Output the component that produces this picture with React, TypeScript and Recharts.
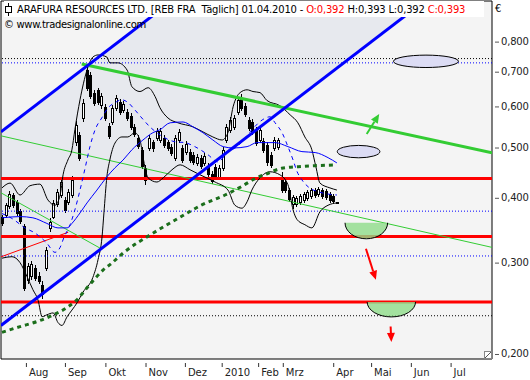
import React from 'react'
import {
  ComposedChart, XAxis, YAxis, CartesianGrid, Bar, Line, Area,
  ReferenceLine, ReferenceDot, ReferenceArea,
} from 'recharts'

// x = bar index (trading bars), y = price in EUR, log scale
const X_MIN = -0.27
const X_MAX = 133.15
const Y_MIN = 0.1956
const Y_MAX = 0.958

const monthTicks = [6.5, 17.1, 28.1, 39.0, 49.7, 59.7, 69.6, 76.3, 90.0, 100.3, 111.1, 121.9]
const monthLabels = ['Aug', 'Sep', 'Okt', 'Nov', 'Dez', '2010', 'Feb', 'Mrz', 'Apr', 'Mai', 'Jun', 'Jul']
const priceTicks = [0.2, 0.3, 0.4, 0.5, 0.6, 0.7, 0.8]

const opens = [
  .368, .371, .386, .405, .393, .377, .353, .278, .283, .293, .283, .272, .293, .350, .368, .389,
  .405, .396, .393, .405, .513, .529, .570, .705, .690, .638, .646, .605, .599, .551, .560, .597,
  .613, .591, .586, .575, .548, .522, .495, .457, .499, .513, .522, .517, .522, .513, .502, .477,
  .517, .499, .491, .491, .484, .467, .477, .467, .461, .445, .459, .439, .457, .517, .541, .548,
  .586, .624, .602, .565, .560, .541, .517, .515, .506, .484, .499, .502, .437, .429, .414, .389,
  .389, .393, .396, .400, .404, .414, .407, .414, .412, .407, .404, .392,
]
const highs = [
  .371, .391, .412, .409, .396, .381, .356, .300, .302, .297, .288, .276, .322, .365, .396, .416,
  .437, .402, .416, .441, .563, .536, .621, .724, .699, .646, .652, .638, .607, .558, .605, .632,
  .621, .616, .594, .583, .555, .529, .502, .463, .529, .517, .546, .546, .529, .517, .508, .529,
  .543, .506, .515, .497, .491, .486, .484, .488, .467, .451, .465, .463, .502, .555, .573, .578,
  .627, .635, .610, .573, .568, .548, .548, .522, .513, .491, .524, .522, .449, .433, .418, .405,
  .404, .407, .411, .414, .418, .418, .420, .418, .416, .411, .407, .393,
]
const lows = [
  .355, .368, .382, .384, .371, .358, .266, .274, .279, .278, .274, .256, .290, .345, .365, .386,
  .402, .376, .389, .402, .506, .473, .563, .646, .624, .605, .607, .597, .565, .522, .555, .591,
  .581, .586, .565, .543, .527, .499, .457, .425, .495, .493, .517, .513, .502, .495, .484, .473,
  .513, .469, .486, .469, .465, .463, .457, .463, .441, .427, .435, .435, .453, .513, .536, .543,
  .581, .591, .575, .541, .531, .506, .513, .491, .463, .459, .495, .497, .410, .410, .394, .382,
  .386, .389, .393, .396, .400, .402, .404, .400, .398, .393, .391, .392,
]
const closes = [
  .358, .387, .407, .387, .374, .361, .268, .295, .298, .280, .277, .261, .317, .360, .391, .410,
  .429, .379, .410, .433, .553, .477, .610, .652, .629, .610, .613, .629, .570, .527, .597, .624,
  .586, .607, .570, .548, .531, .504, .461, .433, .522, .499, .539, .539, .506, .499, .488, .522,
  .536, .473, .508, .473, .469, .480, .461, .482, .445, .431, .439, .457, .495, .548, .565, .570,
  .618, .597, .581, .546, .536, .510, .541, .495, .469, .463, .517, .517, .414, .414, .398, .402,
  .400, .404, .407, .411, .414, .405, .416, .404, .402, .396, .394, .393,
]

// indicator curves: [bar index, price]
const upperBand = [
  [0, .418], [2.2, .427], [4.9, .405], [7.6, .422], [10.3, .425], [12.5, .396], [14.4, .387],
  [15.8, .405], [16.6, .443], [17.9, .473], [19.0, .495], [19.8, .541], [21.2, .618], [23.1, .705],
  [24.7, .747], [26.1, .754], [28.5, .747], [29.3, .728], [31.5, .728], [34.0, .705], [35.3, .655],
  [37.5, .641], [39.7, .652], [41.6, .627], [42.9, .597], [45.1, .570], [47.8, .558], [51.9, .548],
  [54.6, .536], [57.3, .524], [59.8, .517], [61.4, .534], [62.8, .599], [64.7, .638], [66.6, .646],
  [68.2, .641], [70.1, .638], [72.0, .616], [75.5, .602], [78.3, .578], [80.4, .558], [82.3, .524],
  [84.2, .495], [85.3, .459], [86.4, .427], [89.1, .418], [91.0, .414],
]
const lowerBand = [
  [0, .306], [2.7, .308], [4.9, .300], [6.8, .282], [8.4, .266], [9.8, .254], [10.9, .236],
  [12.2, .238], [13.9, .240], [15.2, .230], [16.3, .227], [17.7, .236], [19.0, .243], [20.4, .251],
  [22.0, .263], [24.7, .281], [26.1, .304], [27.2, .337], [27.7, .374], [28.5, .439], [29.3, .473],
  [30.7, .510], [32.6, .524], [34.2, .524], [36.1, .534], [37.5, .517], [38.3, .480], [39.7, .437],
  [42.1, .429], [43.8, .437], [46.2, .453], [48.4, .463], [51.1, .453], [53.8, .443], [57.9, .429],
  [61.4, .414], [63.3, .387], [65.2, .382], [66.6, .393], [67.9, .414], [70.1, .437], [72.8, .449],
  [75.5, .443], [77.7, .424], [79.1, .379], [80.2, .363], [82.3, .355], [84.2, .350], [86.4, .376],
  [88.6, .387], [91.0, .391],
]
const blueAverage = [
  [0, .366], [4.9, .368], [8.4, .366], [12.2, .357], [15.2, .350], [17.7, .350], [19.0, .357],
  [21.2, .374], [23.1, .391], [25.8, .414], [28.5, .439], [30.7, .457], [32.9, .473], [35.3, .495],
  [38.3, .517], [41.0, .534], [42.9, .541], [45.7, .558], [49.2, .560], [51.9, .548], [54.6, .534],
  [57.3, .517], [60.1, .502], [62.8, .499], [66.6, .502], [69.3, .511], [74.2, .511], [77.7, .502],
  [81.5, .491], [85.1, .489], [88.6, .478], [91.0, .467],
]
const blueDashed = [
  [0, .373], [2.7, .365], [6.25, .350], [9.0, .342], [12.2, .327], [14.4, .314], [15.8, .321],
  [16.8, .335], [18.5, .355], [19.8, .379], [21.2, .414], [22.6, .457], [23.9, .502], [25.3, .541],
  [27.1, .570], [28.9, .597], [30.7, .610], [32.5, .618], [34.3, .610], [36.1, .591], [38.0, .570],
  [40.2, .548], [42.9, .529], [47.0, .513], [49.7, .511], [52.4, .502], [56.0, .484], [58.7, .469],
  [61.4, .491], [63.9, .502], [65.2, .513], [67.9, .541], [70.7, .565], [72.8, .573], [74.2, .558],
  [76.1, .534], [77.7, .502], [79.1, .473], [80.2, .449], [81.5, .433], [83.2, .420], [86.4, .410],
  [91.0, .405],
]
const longAverage = [
  [0, .2202], [4.9, .2258], [9.4, .2308], [13.9, .2378], [18.0, .2467], [20.3, .2542], [23.0, .2677],
  [25.3, .2798], [27.5, .2904], [29.8, .2991], [31.6, .3072], [33.4, .315], [40.2, .339], [47.9, .3653],
  [54.3, .3875], [60.6, .405], [65.1, .4206], [69.2, .4372], [71.5, .4436], [76.0, .456], [80.5, .4593],
  [85.1, .4613], [90.5, .4628],
]

// drawn trend lines: two end points each
const channelLow = [[X_MIN, 0.227], [X_MAX, 1.205]]
const channelHigh = [[X_MIN, 0.536], [X_MAX, 2.846]]
const greenResistance = [[21.66, 0.7245], [X_MAX, 0.4887]]
const greenLong = [[X_MIN, 0.5266], [X_MAX, 0.321]]
const greenShort = [[X_MIN, 0.4089], [26.63, 0.320]]
const redShort = [[X_MIN, 0.3078], [18.0, 0.3433]]

const redLevels = [0.436, 0.337, 0.252]
const blueDotted = [0.728, 0.377, 0.309, 0.252]
const blackDotted = [0.742, 0.237]

const toSeries = (pts: number[][]) => pts.map(([x, v]) => ({ x, v }))

const channelArea = [
  { x: X_MIN, band: [channelLow[0][1], channelHigh[0][1]] },
  { x: X_MAX, band: [channelLow[1][1], channelHigh[1][1]] },
]

const candles = opens.map((o, i) => ({
  x: i, o, h: highs[i], l: lows[i], c: closes[i], range: [lows[i], highs[i]],
}))

const Candle = (props: any) => {
  const { x, y, width, height, payload } = props
  if (!payload) return null
  const { o, h, l, c } = payload
  const span = Math.log(h) - Math.log(l)
  const py = (p: number) => y + (span > 0 ? (height * (Math.log(h) - Math.log(p))) / span : 0)
  const cx = Math.round(x + width / 2)
  const top = Math.round(py(Math.max(o, c)))
  const bot = Math.round(py(Math.min(o, c)))
  const up = c >= o
  return (
    <g>
      <line x1={cx + 0.5} x2={cx + 0.5} y1={Math.round(y)} y2={Math.round(y + height) + 1} stroke="#000" strokeWidth={1} />
      <rect x={cx - 0.5} y={top + 0.5} width={2} height={Math.max(1, bot - top)} fill={up ? '#fff' : '#000'} stroke="#000" strokeWidth={1} />
    </g>
  )
}

const MonthTick = ({ x, y, payload }: any) => {
  const idx = monthTicks.indexOf(payload.value)
  return (
    <g>
      <line x1={x + 0.5} x2={x + 0.5} y1={y + 4} y2={y + 8} stroke="#333" />
      <text x={x + 3} y={y + 17} fontSize={10} fontFamily="DejaVu Sans" fill="#222" textAnchor="start">
        {monthLabels[idx]}
      </text>
    </g>
  )
}

const PriceTick = ({ x, y, payload }: any) => (
  <g>
    <line x1={x + 3} x2={x + 7} y1={y + 0.5} y2={y + 0.5} stroke="#555" />
    <text x={x + 9} y={y + 3.5} fontSize={10} fontFamily="DejaVu Sans" fill="#222" letterSpacing={-0.2}>
      {payload.value.toFixed(3).replace('.', ',')}
    </text>
  </g>
)

const Ellipse = (rx: number, ry: number) => (p: any) => (
  <ellipse cx={p.cx} cy={p.cy} rx={rx} ry={ry} fill="#dcdcf4" stroke="#000" strokeWidth={1} />
)

const HalfEllipse = (rx: number, ry: number) => (p: any) => {
  const { cx, cy } = p
  const arc = `M${cx - rx},${cy} A${rx},${ry} 0 0 0 ${cx + rx},${cy}`
  return (
    <g>
      <path d={`${arc} Z`} fill="#8fdc8a" fillOpacity={0.8} stroke="none" />
      <path d={arc} fill="none" stroke="#000" strokeWidth={1} />
    </g>
  )
}

const Arrow = (color: string) => (p: any) => {
  const { x1, y1, x2, y2 } = p
  if ([x1, y1, x2, y2].some((v) => v == null || isNaN(v))) return null
  const a = Math.atan2(y2 - y1, x2 - x1)
  const len = 9
  const w = 4
  const bx = x2 - len * Math.cos(a)
  const by = y2 - len * Math.sin(a)
  const nx = -Math.sin(a) * w
  const ny = Math.cos(a) * w
  return (
    <g>
      <line x1={x1} y1={y1} x2={bx} y2={by} stroke={color} strokeWidth={2} />
      <polygon points={`${x2},${y2} ${bx + nx},${by + ny} ${bx - nx},${by - ny}`} fill={color} />
    </g>
  )
}

const trend = (pts: number[][], color: string, width: number, key: string) => (
  <Line key={key} data={toSeries(pts)} dataKey="v" type="linear" stroke={color} strokeWidth={width}
    dot={false} activeDot={false} isAnimationActive={false} />
)

const curve = (pts: number[][], color: string, width: number, key: string, dash?: string) => (
  <Line key={key} data={toSeries(pts)} dataKey="v" type="monotone" stroke={color} strokeWidth={width}
    strokeDasharray={dash} dot={false} activeDot={false} isAnimationActive={false} />
)

export default function App() {
  return (
    <div style={{ position: 'absolute', left: 0, top: 0, width: 530, height: 380, background: '#fff', overflow: 'hidden' }}>
      <ComposedChart width={530} height={380} data={candles} margin={{ top: 1, right: 0, bottom: 0, left: 1 }}>
        <CartesianGrid horizontal={false} vertical={false} fill="#f4f4f4" />
        <XAxis dataKey="x" type="number" domain={[X_MIN, X_MAX]} allowDataOverflow ticks={monthTicks}
          interval={0} height={21} tickSize={0} tickMargin={0} axisLine={false} tick={<MonthTick />} />
        <YAxis orientation="right" scale="log" domain={[Y_MIN, Y_MAX]} allowDataOverflow ticks={priceTicks}
          interval={0} width={38} tickSize={0} tickMargin={0} axisLine={false} tick={<PriceTick />} />

        <Area data={channelArea} dataKey="band" type="linear" stroke="none" fill="#e7e9ee" fillOpacity={1}
          isAnimationActive={false} dot={false} activeDot={false} />

        {blackDotted.map((v) => (
          <ReferenceLine key={`k${v}`} y={v} stroke="#000" strokeDasharray="1 2" strokeWidth={1} />
        ))}
        {blueDotted.map((v) => (
          <ReferenceLine key={`b${v}`} y={v} stroke="#0000ff" strokeDasharray="1 2" strokeWidth={1} />
        ))}
        {redLevels.map((v) => (
          <ReferenceLine key={`r${v}`} y={v} stroke="#ff0000" strokeWidth={3} />
        ))}

        {trend(greenLong, '#33cc33', 1, 'gl')}
        {trend(greenShort, '#33cc33', 1, 'gs')}
        {trend(redShort, '#ff0000', 1, 'rs')}
        {curve(upperBand, '#000', 1, 'ub')}
        {curve(lowerBand, '#000', 1, 'lb')}
        {curve(blueAverage, '#0000ff', 1, 'ba')}
        {curve(blueDashed, '#0000ff', 1, 'bd', '4 4')}
        {curve(longAverage, '#1b6e1b', 3, 'la', '4 4')}
        {trend(greenResistance, '#33cc33', 3, 'gr')}
        {trend(channelLow, '#0000ff', 3, 'cl')}
        {trend(channelHigh, '#0000ff', 3, 'ch')}

        <Bar dataKey="range" barSize={3} shape={<Candle />} isAnimationActive={false} />

        <ReferenceDot x={115.2} y={0.733} r={1} shape={Ellipse(32.5, 6.2)} />
        <ReferenceDot x={96.9} y={0.491} r={1} shape={Ellipse(21.3, 6.2)} />
        <ReferenceDot x={99.0} y={0.358} r={1} shape={HalfEllipse(21.3, 16)} />
        <ReferenceDot x={105.8} y={0.252} r={1} shape={HalfEllipse(24.2, 15)} />
        <ReferenceLine segment={[{ x: 99.1, y: 0.531 }, { x: 102.5, y: 0.580 }]} shape={Arrow('#33cc33')} />
        <ReferenceLine segment={[{ x: 98.9, y: 0.319 }, { x: 101.6, y: 0.278 }]} shape={Arrow('#ff0000')} />
        <ReferenceLine segment={[{ x: 105.6, y: 0.226 }, { x: 105.8, y: 0.211 }]} shape={Arrow('#ff0000')} />

        <ReferenceArea x1={X_MIN} x2={X_MAX} y1={Y_MIN} y2={Y_MAX} fill="none" stroke="#000" strokeWidth={1} />
      </ComposedChart>

      <div style={{ position: 'absolute', left: 4, top: 1, width: 480, height: 16, background: '#fff' }} />
      <svg style={{ position: 'absolute', left: 3, top: 3 }} width={12} height={14}>
        <line x1={5.5} x2={5.5} y1={0} y2={13} stroke="#000" />
        <rect x={2.5} y={3.5} width={6} height={6} fill="#fff" stroke="#000" />
      </svg>
      <div style={{
        position: 'absolute', left: 17, top: 4, fontFamily: 'DejaVu Sans', fontSize: 10, lineHeight: '12px',
        letterSpacing: -0.2, whiteSpace: 'pre', color: '#000',
      }}>
        {'ARAFURA RESOURCES LTD. [REB FRA  Täglich] 01.04.2010 - '}
        <span style={{ color: '#ff0000' }}>O:0,392</span>
        {' H:0,393 L:0,392 '}
        <span style={{ color: '#ff0000' }}>C:0,393</span>
      </div>
      <div style={{
        position: 'absolute', left: 4, top: 19, fontFamily: 'DejaVu Sans', fontSize: 10, lineHeight: '12px',
        letterSpacing: -0.35, whiteSpace: 'pre', color: '#000',
      }}>
        {'© www.tradesignalonline.com'}
      </div>
      <div style={{ position: 'absolute', left: 495, top: 3, fontFamily: 'DejaVu Sans', fontSize: 10, color: '#000' }}>€</div>
      <svg style={{ position: 'absolute', left: 484, top: 351 }} width={8} height={8}>
        <rect x={0.5} y={0.5} width={7} height={7} fill="#fff" stroke="#888" />
        <line x1={1} y1={7} x2={7} y2={1} stroke="#555" />
      </svg>
    </div>
  )
}
